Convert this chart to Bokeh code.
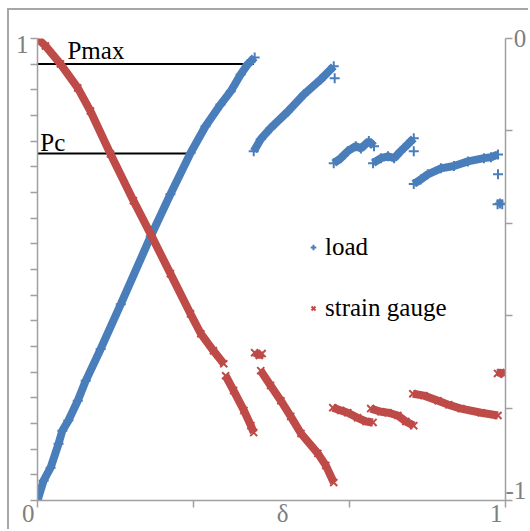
from bokeh.plotting import figure
from bokeh.models import Range1d, LinearAxis, FixedTicker, Label, Legend, LegendItem, CustomJSTickFormatter
from bokeh.embed import file_html
from bokeh.resources import INLINE

nan = float("nan")

# load (left axis, 0..1), segments separated by nan
load_x = [0, 0.013, 0.028, 0.045, 0.053, 0.066, 0.086, 0.103, 0.135, 0.178, 0.242, 0.284, 0.327, 0.359, 0.391, 0.413, 0.434, 0.449, 0.464, nan,
          0.462, 0.477, 0.498, 0.535, 0.569, 0.605, 0.633, nan,
          0.635, nan,
          0.633, 0.648, 0.663, 0.680, 0.691, 0.708, 0.719, nan,
          0.717, 0.734, 0.749, 0.762, 0.776, 0.791, 0.804, nan,
          0.804, nan,
          0.804, 0.819, 0.834, 0.862, 0.890, 0.920, 0.954, 0.969, 0.984, nan,
          0.984, nan,
          0.983, 0.988, 0.993]
load_y = [0, 0.043, 0.071, 0.123, 0.151, 0.173, 0.216, 0.259, 0.328, 0.425, 0.572, 0.663, 0.752, 0.810, 0.857, 0.886, 0.922, 0.944, 0.959, nan,
          0.756, 0.782, 0.806, 0.842, 0.879, 0.911, 0.940, nan,
          0.914, nan,
          0.730, 0.741, 0.756, 0.767, 0.762, 0.778, 0.767, nan,
          0.730, 0.741, 0.745, 0.741, 0.756, 0.771, 0.784, nan,
          0.756, nan,
          0.685, 0.695, 0.706, 0.719, 0.724, 0.734, 0.741, 0.743, 0.749, nan,
          0.706, nan,
          0.641, 0.643, 0.641]

# strain gauge (right axis, -1..0)
gauge_x = [0, 0.017, 0.049, 0.086, 0.113, 0.156, 0.205, 0.242, 0.284, 0.327, 0.349, 0.376, 0.398, nan,
           0.402, 0.419, 0.441, 0.456, 0.462, nan,
           0.464, 0.474, 0.480, nan,
           0.477, 0.498, 0.520, 0.541, 0.563, 0.599, 0.616, 0.633, nan,
           0.631, 0.648, 0.663, 0.684, 0.702, 0.717, nan,
           0.712, 0.734, 0.749, 0.770, 0.787, 0.804, nan,
           0.802, 0.826, 0.856, 0.879, 0.905, 0.948, 0.984, nan,
           0.983, 0.990, 0.997]
gauge_y = [0, -0.016, -0.055, -0.107, -0.157, -0.250, -0.351, -0.424, -0.509, -0.596, -0.639, -0.676, -0.704, nan,
           -0.730, -0.762, -0.805, -0.838, -0.853, nan,
           -0.680, -0.686, -0.682, nan,
           -0.719, -0.751, -0.784, -0.818, -0.855, -0.898, -0.924, -0.961, nan,
           -0.799, -0.805, -0.810, -0.821, -0.829, -0.831, nan,
           -0.801, -0.808, -0.810, -0.816, -0.829, -0.838, nan,
           -0.769, -0.773, -0.784, -0.793, -0.801, -0.810, -0.816, nan,
           -0.725, -0.723, -0.727]

pmax_x = [0, 0.462]
pmax_y = [0.945, 0.945]
pc_x = [0, 0.327]
pc_y = [0.751, 0.751]

# tick marks
x_ticks = [0, 1 / 3, 2 / 3, 1]
left_ticks = [i / 18 for i in range(19)]
right_ticks = [0, -0.2, -0.4, -0.6, -0.8, -1]
# tick labels and where they sit
x_label_pos = [0, 0.524, 0.980]
x_labels = ["0\u2002\u2005", "δ", "1"]
left_label_pos = [0.988]
left_labels = ["1"]
right_label_pos = [0, -0.978]
right_labels = ["\u2005\u200a0", "-1"]

BLUE = "#4a7ebb"
RED = "#be4b48"
AXIS = "#a0a0a0"
TICKTXT = "#7f7f7f"
FONT = "Liberation Serif"
FS = "25px"


def fmt(pos, labels):
    return CustomJSTickFormatter(args=dict(pos=pos, labels=labels), code="""
        for (let i = 0; i < pos.length; i++) {
            if (Math.abs(tick - pos[i]) < 1e-6) { return labels[i]; }
        }
        return '';
    """)


p = figure(width=521, height=521, output_backend="svg", toolbar_location=None,
           x_range=Range1d(0, 1), y_range=Range1d(0, 1),
           min_border_left=28, min_border_right=25, min_border_top=28, min_border_bottom=31)
p.styles = {"margin-left": "7px", "margin-top": "8px",
            "border-top": "2px solid #a6a6a6", "border-left": "2px solid #a6a6a6"}
p.extra_y_ranges = {"right": Range1d(-1, 0)}
p.grid.visible = False
p.outline_line_color = None

p.xaxis.ticker = FixedTicker(ticks=x_label_pos, minor_ticks=x_ticks)
p.xaxis.formatter = fmt(x_label_pos, x_labels)
p.yaxis.ticker = FixedTicker(ticks=left_label_pos, minor_ticks=left_ticks)
p.yaxis.formatter = fmt(left_label_pos, left_labels)
raxis = LinearAxis(y_range_name="right", ticker=FixedTicker(ticks=right_label_pos, minor_ticks=right_ticks),
                   formatter=fmt(right_label_pos, right_labels))
p.add_layout(raxis, "right")
for ax in [p.xaxis[0], p.yaxis[0], raxis]:
    ax.axis_line_color = AXIS
    ax.axis_line_width = 1.5
    ax.major_tick_line_color = None
    ax.major_tick_in = 0
    ax.major_tick_out = 0
    ax.minor_tick_line_color = AXIS
    ax.minor_tick_line_width = 1.5
    ax.minor_tick_in = 0
    ax.minor_tick_out = 7
    ax.major_label_text_font = FONT
    ax.major_label_text_font_size = FS
    ax.major_label_text_color = TICKTXT
p.xaxis.major_label_standoff = -8
p.yaxis.major_label_standoff = 2
raxis.major_label_standoff = -7

# reference lines
p.line(pmax_x, pmax_y, line_color="black", line_width=2)
p.line(pc_x, pc_y, line_color="black", line_width=2)

# data
p.line(load_x, load_y, line_color=BLUE, line_width=8)
s_load = p.scatter(load_x, load_y, marker="cross", size=10, line_width=2, line_color=BLUE)
p.line(gauge_x, gauge_y, line_color=RED, line_width=8, y_range_name="right")
s_gauge = p.scatter(gauge_x, gauge_y, marker="x", size=10, line_width=2, line_color=RED, y_range_name="right")

legend = Legend(items=[LegendItem(label="load", renderers=[s_load]),
                       LegendItem(label="strain gauge", renderers=[s_gauge])],
                location=(269, 177), label_text_font=FONT, label_text_font_size=FS,
                label_text_color="black", border_line_color=None, background_fill_alpha=0,
                padding=0, margin=0, spacing=31, glyph_width=14, glyph_height=30,
                label_height=30, label_standoff=5)
p.add_layout(legend)

p.add_layout(Label(x=0.064, y=0.974, text="Pmax", text_font=FONT, text_font_size=FS,
                   text_color="black", text_baseline="alphabetic"))
p.add_layout(Label(x=0.006, y=0.775, text="Pc", text_font=FONT, text_font_size=FS,
                   text_color="black", text_baseline="alphabetic"))

open("out.html", "w").write(file_html(p, INLINE))
